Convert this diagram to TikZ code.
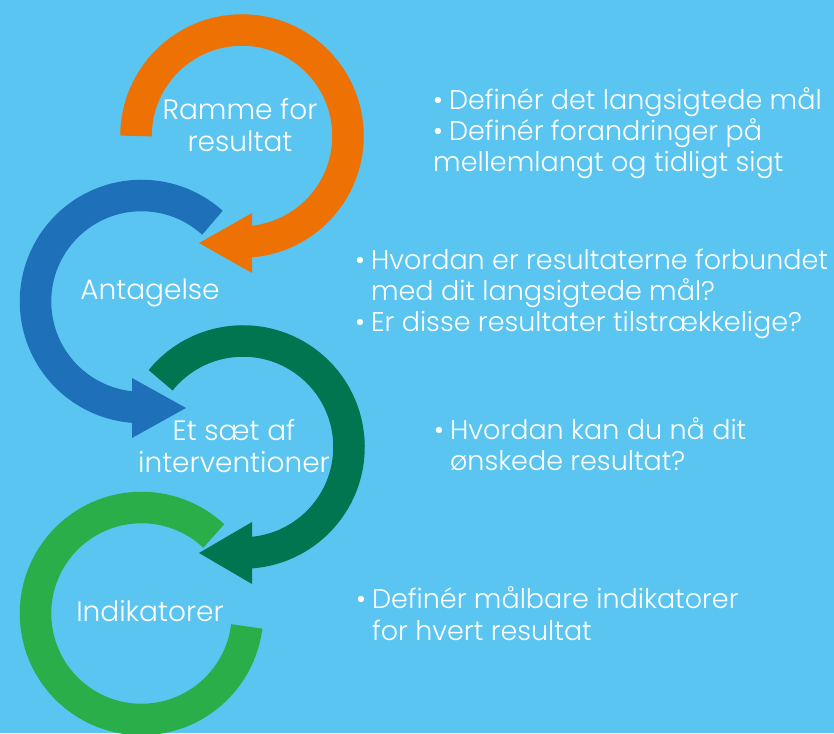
\documentclass[tikz,border=0pt]{standalone}
\usepackage{fontspec}
\setmainfont{Poppins}[UprightFont=* Light]
\usepackage{xcolor}
\usepackage{tikz}

\definecolor{bg}{HTML}{5BC5F1}
\definecolor{cheng}{HTML}{EE7203}
\definecolor{lan}{HTML}{1E70B8}
\definecolor{shenlv}{HTML}{00754F}
\definecolor{qianlv}{HTML}{29AE4A}

\tikzset{
  ring/.style={line width=31.5pt},
  title/.style={text=white, font=\fontsize{28}{32}\selectfont, align=center, anchor=base, inner sep=0pt},
  info/.style={text=white, font=\fontsize{27}{31}\selectfont, align=left, anchor=base west, inner sep=0pt},
}
\newcommand\bul{\textbullet\hspace{6pt}}

\begin{document}
\begin{tikzpicture}[x=1pt, y=1pt]
        % 背景
        \fill[bg] (0,0) rectangle (834,733);
        \clip (0,0) rectangle (834,733);
        \useasboundingbox (0,0) rectangle (834,733);

        % 四个圆环的圆心
        \coordinate (O1) at (242, 597);    % 橙色
        \coordinate (O2) at (141.5, 431.5); % 蓝色
        \coordinate (O3) at (243, 286);    % 深绿
        \coordinate (O4) at (141.5, 119.5); % 浅绿

        % 画圆环
        \draw[ring, cheng] (O1) ++(180:106) arc (180:-86:106);
        \draw[ring, lan] (O2) ++(48:106) arc (48:266:106);
        \draw[ring, shenlv] (O3) ++(141:106) arc (141:-86:106);
        \draw[ring, qianlv] (O4) ++(47:106) arc (47:353:106);

        % 画箭头
        \fill[cheng] (252, 520) -- (252, 460) -- (199, 490) -- cycle;
        \fill[lan] (132, 355) -- (132, 295) -- (186, 325) -- cycle;
        \fill[shenlv] (252, 211) -- (252, 149) -- (199, 180) -- cycle;

        % 圆环里的文字 (base 是最后一行)
        \node[title] (t1) at (240, 581) {Ramme for\\resultat};
        \node[title] (t2) at (150, 433) {Antagelse};
        \node[title] (t3) at (234, 260) {Et sæt af\\interventioner};
        \node[title] (t4) at (150, 112) {Indikatorer};

        % 右边的说明
        \node[info] (s1) at (433, 561) {\bul Definér det langsigtede mål\\\bul Definér forandringer på\\mellemlangt og tidligt sigt};
        \node[info] (s2) at (355, 401) {\bul Hvordan er resultaterne forbundet\\\phantom{\bul}med dit langsigtede mål?\\\bul Er disse resultater tilstrækkelige?};
        \node[info] (s3) at (434, 262) {\bul Hvordan kan du nå dit\\\phantom{\bul}ønskede resultat?};
        \node[info] (s4) at (356, 93) {\bul Definér målbare indikatorer\\\phantom{\bul}for hvert resultat};
\end{tikzpicture}
\end{document}
